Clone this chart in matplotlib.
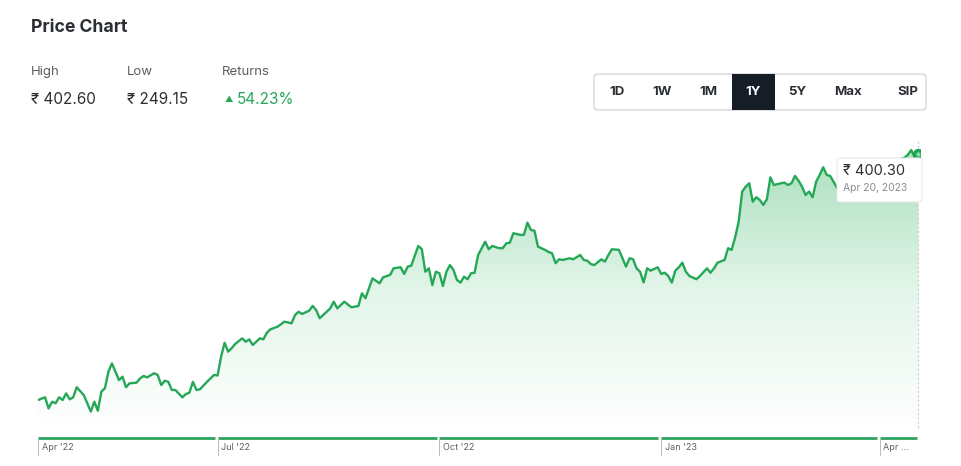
import numpy as np
import matplotlib.pyplot as plt
from matplotlib.colors import LinearSegmentedColormap
from matplotlib.patches import FancyBboxPatch, Rectangle

# trading-day index (0 = Apr 20 2022) and closing price
days = [0, 2, 3, 4, 5, 6, 7, 8, 9, 10, 11, 13, 15, 16, 17, 18, 19, 20, 21, 23,
        24, 25, 26, 28, 29, 30, 31, 33, 34, 35, 36, 37, 38, 39, 41, 42, 43, 44, 45, 46,
        48, 50, 51, 52, 53, 54, 55, 56, 58, 59, 60, 61, 63, 64, 65, 66, 68, 70, 72, 73,
        74, 75, 77, 78, 79, 80, 82, 83, 84, 85, 87, 89, 91, 92, 93, 95, 97, 98, 100, 101,
        103, 104, 105, 106, 108, 109, 110, 111, 112, 113, 114, 115, 116, 117, 118, 119, 120, 121, 122, 123,
        124, 125, 127, 128, 129, 131, 132, 133, 134, 135, 137, 138, 139, 140, 141, 142, 144, 145, 146, 147,
        148, 149, 151, 152, 154, 155, 156, 157, 158, 160, 161, 162, 163, 165, 167, 168, 169, 170, 171, 172,
        173, 174, 176, 177, 178, 179, 180, 181, 182, 183, 184, 185, 187, 188, 190, 191, 192, 193, 195, 196,
        197, 198, 199, 200, 201, 202, 203, 204, 205, 206, 207, 208, 209, 211, 212, 213, 214, 215, 216, 217,
        218, 219, 220, 221, 222, 223, 224, 225, 227, 228, 229, 231, 232, 234, 236, 237, 239, 241, 243, 244,
        246, 247, 248, 249, 250]
prices = [255.9, 257.5, 251.0, 254.9, 254.0, 257.5, 255.9, 259.8, 256.3, 257.5, 263.4, 258.8, 249.15, 254.9, 249.6, 260.8, 262.8, 272.5, 277.4, 267.6,
          269.6, 263.4, 265.7, 266.1, 268.6, 270.0, 269.2, 271.6, 270.6, 264.7, 267.2, 266.6, 261.8, 261.8, 257.5, 259.4, 260.2, 266.6, 261.8, 262.2,
          266.6, 270.6, 270.3, 281.3, 289.5, 284.3, 286.3, 288.8, 292.1, 290.1, 291.5, 288.2, 292.1, 291.5, 295.4, 297.4, 298.9, 301.9, 300.9, 305.8,
          307.7, 306.4, 308.3, 311.1, 308.7, 303.9, 307.7, 309.7, 313.6, 309.7, 313.6, 310.3, 311.1, 318.5, 315.6, 327.3, 324.4, 327.9, 329.3, 333.2,
          333.8, 329.9, 334.2, 334.7, 346.3, 344.5, 331.2, 333.2, 323.4, 331.2, 330.3, 322.8, 331.2, 335.1, 332.2, 326.3, 324.8, 328.3, 326.8, 330.3,
          330.6, 341.0, 348.8, 344.4, 346.3, 345.0, 345.0, 347.9, 348.2, 353.8, 352.8, 352.8, 360.0, 355.7, 355.3, 345.9, 344.0, 342.8, 342.0, 336.2,
          338.5, 338.1, 339.1, 338.5, 341.0, 338.1, 337.7, 335.7, 335.1, 338.5, 337.1, 341.0, 344.4, 344.0, 334.2, 339.1, 338.5, 333.2, 331.2, 324.9,
          333.2, 331.8, 333.8, 329.9, 330.6, 328.7, 324.8, 331.8, 333.8, 336.5, 331.2, 328.7, 326.8, 328.7, 333.2, 330.6, 333.2, 336.5, 338.1, 345.0,
          344.0, 351.4, 360.6, 378.2, 381.1, 383.1, 372.3, 374.9, 373.3, 370.4, 373.7, 386.6, 382.1, 383.1, 383.5, 382.1, 383.1, 387.4, 384.6, 381.1,
          376.2, 378.2, 374.9, 384.0, 388.0, 392.5, 388.0, 387.4, 380.2, 375.7, 373.3, 379.2, 382.1, 386.2, 383.9, 388.0, 390.9, 389.7, 393.9, 396.8,
          398.0, 399.7, 402.6, 398.5, 400.3]

tick_days = [0, 51, 114, 177, 239]
tick_labels = ["Apr '22", "Jul '22", "Oct '22", "Jan '23", "Apr ..."]

high = 402.60
low = 249.15
returns = 54.23
last_price = 400.30
last_date = "Apr 20, 2023"
periods = ['1D', '1W', '1M', '1Y', '5Y', 'Max', 'SIP']
active = '1Y'

W, H = 962, 466
GREEN = '#24a857'

plt.rcParams['font.family'] = ['Inter', 'DejaVu Sans']


def fx(x):
    return x / W


def fy(y):
    return 1 - y / H


fig = plt.figure(figsize=(9.62, 4.66), dpi=100)

# ---- header ----
fig.text(fx(31), fy(28), 'Price Chart', fontsize=12.7, fontweight='bold',
         color='#2b2f33', va='center')
fig.text(fx(31), fy(72), 'High', fontsize=9.5, color='#5b5f63', va='center')
fig.text(fx(127), fy(72), 'Low', fontsize=9.5, color='#5b5f63', va='center')
fig.text(fx(222), fy(72), 'Returns', fontsize=9.5, color='#5b5f63', va='center')
fig.text(fx(31), fy(100), '₹ %.2f' % high, fontsize=11, color='#2b2f33', va='center')
fig.text(fx(127), fy(100), '₹ %.2f' % low, fontsize=11, color='#2b2f33', va='center')
fig.text(fx(225), fy(100), '▲', fontsize=6, color=GREEN, va='center')
fig.text(fx(237), fy(100), '%.2f%%' % returns, fontsize=11, color=GREEN, va='center')

# ---- period buttons ----
box = FancyBboxPatch((fx(594), fy(110)), fx(332), (110 - 74) / H,
                     boxstyle='round,pad=0,rounding_size=0.006',
                     transform=fig.transFigure, facecolor='white',
                     edgecolor='#cfd2d6', linewidth=0.9)
fig.add_artist(box)
btn_x = [617, 662, 708, 753, 797, 848, 908]
for name, bx in zip(periods, btn_x):
    col = '#2b2f33'
    if name == active:
        fig.add_artist(Rectangle((fx(732), fy(110)), fx(43), (110 - 74) / H,
                                 transform=fig.transFigure, facecolor='#161d26',
                                 edgecolor='none'))
        col = 'white'
    fig.text(fx(bx), fy(92), name, fontsize=9.5, fontweight='bold', color=col,
             ha='center', va='center')

# ---- price chart ----
ylo, yhi = 234.2, 408.5
xmax = 250.5
ax = fig.add_axes([fx(38), fy(437), fx(882), (437 - 140) / H])
ax.set_xlim(0, xmax)
ax.set_ylim(ylo, yhi)
ax.axis('off')

fill = ax.fill_between(days, prices, ylo, color='none', linewidth=0)
cmap = LinearSegmentedColormap.from_list('fade', ['#ffffff', '#e2f5e9', '#a9dfbd'])
grad = np.linspace(0, 1, 256).reshape(-1, 1)
img = ax.imshow(grad, extent=[0, xmax, ylo + 5, max(prices)], origin='lower',
                aspect='auto', cmap=cmap, zorder=1)
img.set_clip_path(fill.get_paths()[0], transform=ax.transData)

ax.plot(days, prices, color=GREEN, linewidth=1.7, zorder=3, solid_joinstyle='round')
ax.axvline(days[-1], ymin=0.03, ymax=1, color='#c8ccd0', linewidth=0.8,
           linestyle=(0, (2, 2)), zorder=2)
ax.plot(days[-1], prices[-1], 'o', markersize=7.5, color=GREEN, zorder=4,
        markeredgecolor='#1b9448', markeredgewidth=0.6)
ax.plot(days[-1], prices[-1], 'o', markersize=2, color='#8fd6a6', zorder=5)

# tooltip
tip = FancyBboxPatch((fx(837), fy(202)), fx(85), (202 - 158) / H,
                     boxstyle='round,pad=0,rounding_size=0.003',
                     transform=fig.transFigure, facecolor='white',
                     edgecolor='#e6e8ea', linewidth=0.8, zorder=6)
fig.add_artist(tip)
fig.text(fx(843), fy(171), '₹ %.2f' % last_price, fontsize=10.5, color='#2b2f33',
         va='center', zorder=7)
fig.text(fx(843), fy(188), last_date, fontsize=7.5, color='#8a8f94',
         va='center', zorder=7)

# ---- x axis strip ----
ax2 = fig.add_axes([fx(38), fy(456), fx(882), (456 - 436) / H])
ax2.set_xlim(0, xmax)
ax2.set_ylim(1, 0)
ax2.axis('off')
ends = tick_days[1:] + [days[-1] + 0.5]
for start, end, lab in zip(tick_days, ends, tick_labels):
    ax2.plot([start, end - 0.8], [0.1, 0.1], color='#2ea35f', linewidth=2,
             solid_capstyle='butt')
    ax2.plot([start, start], [0.1, 1.0], color='#b8bcc0', linewidth=0.7)
    ax2.text(start + 1.0, 0.6, lab, fontsize=6.5, color='#5b5f63', va='center')

fig.savefig('out.png', dpi=100)
